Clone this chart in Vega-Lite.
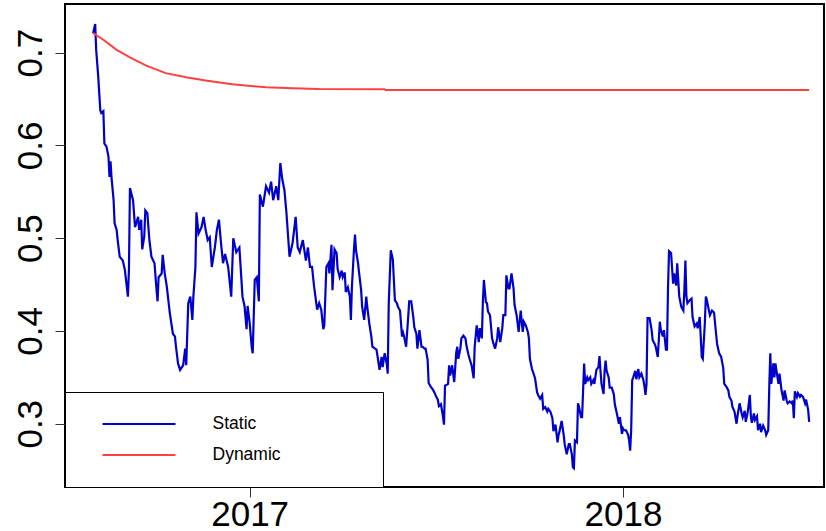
{
  "$schema": "https://vega.github.io/schema/vega-lite/v6.json",
  "width": 759,
  "height": 483,
  "autosize": {"type": "none"},
  "padding": {"left": 65, "top": 4, "right": 2, "bottom": 44},
  "background": "white",
  "config": {
    "view": {"stroke": "black", "strokeWidth": 2},
    "font": "Liberation Sans"
  },
  "datasets": {
    "static": [
      {"d":"2016-08-01","v":0.721},{"d":"2016-08-03","v":0.731},{"d":"2016-08-04","v":0.703},{"d":"2016-08-06","v":0.674},{"d":"2016-08-08","v":0.638},{"d":"2016-08-09","v":0.635},{"d":"2016-08-11","v":0.637},{"d":"2016-08-12","v":0.602},{"d":"2016-08-14","v":0.599},{"d":"2016-08-16","v":0.588},{"d":"2016-08-17","v":0.566},{"d":"2016-08-18","v":0.583},{"d":"2016-08-19","v":0.565},{"d":"2016-08-21","v":0.541},{"d":"2016-08-22","v":0.516},{"d":"2016-08-24","v":0.509},{"d":"2016-08-25","v":0.498},{"d":"2016-08-27","v":0.480},{"d":"2016-08-30","v":0.476},{"d":"2016-09-01","v":0.466},{"d":"2016-09-04","v":0.437},{"d":"2016-09-05","v":0.466},{"d":"2016-09-06","v":0.554},{"d":"2016-09-09","v":0.541},{"d":"2016-09-11","v":0.512},{"d":"2016-09-14","v":0.523},{"d":"2016-09-15","v":0.509},{"d":"2016-09-17","v":0.520},{"d":"2016-09-18","v":0.488},{"d":"2016-09-20","v":0.502},{"d":"2016-09-21","v":0.530},{"d":"2016-09-23","v":0.527},{"d":"2016-09-25","v":0.498},{"d":"2016-09-27","v":0.480},{"d":"2016-09-30","v":0.473},{"d":"2016-10-02","v":0.444},{"d":"2016-10-03","v":0.432},{"d":"2016-10-04","v":0.458},{"d":"2016-10-07","v":0.462},{"d":"2016-10-08","v":0.482},{"d":"2016-10-10","v":0.462},{"d":"2016-10-12","v":0.448},{"d":"2016-10-15","v":0.419},{"d":"2016-10-18","v":0.397},{"d":"2016-10-20","v":0.394},{"d":"2016-10-21","v":0.383},{"d":"2016-10-23","v":0.365},{"d":"2016-10-25","v":0.358},{"d":"2016-10-28","v":0.363},{"d":"2016-10-30","v":0.381},{"d":"2016-10-31","v":0.363},{"d":"2016-11-02","v":0.430},{"d":"2016-11-04","v":0.437},{"d":"2016-11-06","v":0.412},{"d":"2016-11-07","v":0.437},{"d":"2016-11-09","v":0.469},{"d":"2016-11-10","v":0.528},{"d":"2016-11-12","v":0.505},{"d":"2016-11-15","v":0.512},{"d":"2016-11-17","v":0.523},{"d":"2016-11-19","v":0.509},{"d":"2016-11-21","v":0.498},{"d":"2016-11-23","v":0.501},{"d":"2016-11-25","v":0.469},{"d":"2016-11-28","v":0.490},{"d":"2016-11-30","v":0.509},{"d":"2016-12-02","v":0.520},{"d":"2016-12-04","v":0.495},{"d":"2016-12-06","v":0.473},{"d":"2016-12-08","v":0.483},{"d":"2016-12-11","v":0.469},{"d":"2016-12-14","v":0.437},{"d":"2016-12-16","v":0.500},{"d":"2016-12-19","v":0.485},{"d":"2016-12-22","v":0.490},{"d":"2016-12-25","v":0.437},{"d":"2016-12-27","v":0.427},{"d":"2016-12-29","v":0.402},{"d":"2016-12-30","v":0.427},
      {"d":"2017-01-01","v":0.409},{"d":"2017-01-03","v":0.383},{"d":"2017-01-04","v":0.376},{"d":"2017-01-06","v":0.455},{"d":"2017-01-08","v":0.458},{"d":"2017-01-10","v":0.432},{"d":"2017-01-11","v":0.547},{"d":"2017-01-14","v":0.534},{"d":"2017-01-17","v":0.556},{"d":"2017-01-20","v":0.549},{"d":"2017-01-22","v":0.561},{"d":"2017-01-24","v":0.541},{"d":"2017-01-27","v":0.556},{"d":"2017-01-29","v":0.541},{"d":"2017-01-31","v":0.581},{"d":"2017-02-02","v":0.563},{"d":"2017-02-04","v":0.552},{"d":"2017-02-06","v":0.527},{"d":"2017-02-09","v":0.480},{"d":"2017-02-12","v":0.495},{"d":"2017-02-15","v":0.523},{"d":"2017-02-17","v":0.490},{"d":"2017-02-19","v":0.485},{"d":"2017-02-22","v":0.498},{"d":"2017-02-25","v":0.476},{"d":"2017-02-27","v":0.490},{"d":"2017-03-01","v":0.469},{"d":"2017-03-03","v":0.469},{"d":"2017-03-05","v":0.448},{"d":"2017-03-08","v":0.423},{"d":"2017-03-10","v":0.430},{"d":"2017-03-12","v":0.423},{"d":"2017-03-14","v":0.402},{"d":"2017-03-15","v":0.406},{"d":"2017-03-17","v":0.469},{"d":"2017-03-19","v":0.473},{"d":"2017-03-20","v":0.462},{"d":"2017-03-22","v":0.493},{"d":"2017-03-23","v":0.444},{"d":"2017-03-25","v":0.488},{"d":"2017-03-27","v":0.484},{"d":"2017-03-28","v":0.467},{"d":"2017-03-30","v":0.458},{"d":"2017-04-01","v":0.465},{"d":"2017-04-02","v":0.458},{"d":"2017-04-04","v":0.463},{"d":"2017-04-05","v":0.442},{"d":"2017-04-07","v":0.447},{"d":"2017-04-09","v":0.437},{"d":"2017-04-10","v":0.412},{"d":"2017-04-11","v":0.448},{"d":"2017-04-13","v":0.488},{"d":"2017-04-14","v":0.504},{"d":"2017-04-15","v":0.487},{"d":"2017-04-17","v":0.473},{"d":"2017-04-18","v":0.463},{"d":"2017-04-20","v":0.444},{"d":"2017-04-21","v":0.426},{"d":"2017-04-23","v":0.412},{"d":"2017-04-25","v":0.437},{"d":"2017-04-26","v":0.426},{"d":"2017-04-28","v":0.408},{"d":"2017-04-30","v":0.394},{"d":"2017-05-01","v":0.383},{"d":"2017-05-05","v":0.380},{"d":"2017-05-06","v":0.373},{"d":"2017-05-08","v":0.358},{"d":"2017-05-10","v":0.372},{"d":"2017-05-11","v":0.361},{"d":"2017-05-13","v":0.376},{"d":"2017-05-15","v":0.365},{"d":"2017-05-16","v":0.354},{"d":"2017-05-17","v":0.430},{"d":"2017-05-19","v":0.487},{"d":"2017-05-21","v":0.477},{"d":"2017-05-23","v":0.433},{"d":"2017-05-25","v":0.430},{"d":"2017-05-26","v":0.426},{"d":"2017-05-28","v":0.422},{"d":"2017-05-30","v":0.394},{"d":"2017-05-31","v":0.398},{"d":"2017-06-01","v":0.394},{"d":"2017-06-03","v":0.383},{"d":"2017-06-05","v":0.415},{"d":"2017-06-06","v":0.432},{"d":"2017-06-08","v":0.432},{"d":"2017-06-10","v":0.415},{"d":"2017-06-11","v":0.404},{"d":"2017-06-13","v":0.397},{"d":"2017-06-14","v":0.381},{"d":"2017-06-16","v":0.401},{"d":"2017-06-18","v":0.383},{"d":"2017-06-19","v":0.383},{"d":"2017-06-21","v":0.381},{"d":"2017-06-22","v":0.381},{"d":"2017-06-24","v":0.369},{"d":"2017-06-25","v":0.344},{"d":"2017-06-27","v":0.340},{"d":"2017-06-29","v":0.337},{"d":"2017-07-01","v":0.333},{"d":"2017-07-02","v":0.330},{"d":"2017-07-04","v":0.326},{"d":"2017-07-05","v":0.319},{"d":"2017-07-07","v":0.321},{"d":"2017-07-09","v":0.308},{"d":"2017-07-10","v":0.299},{"d":"2017-07-11","v":0.341},{"d":"2017-07-14","v":0.343},{"d":"2017-07-15","v":0.363},{"d":"2017-07-16","v":0.352},{"d":"2017-07-18","v":0.363},{"d":"2017-07-20","v":0.345},{"d":"2017-07-22","v":0.377},{"d":"2017-07-23","v":0.383},{"d":"2017-07-24","v":0.370},{"d":"2017-07-26","v":0.381},{"d":"2017-07-27","v":0.392},{"d":"2017-07-29","v":0.395},{"d":"2017-07-31","v":0.392},{"d":"2017-08-01","v":0.384},{"d":"2017-08-03","v":0.374},{"d":"2017-08-04","v":0.370},{"d":"2017-08-06","v":0.363},{"d":"2017-08-08","v":0.349},{"d":"2017-08-09","v":0.383},{"d":"2017-08-11","v":0.406},{"d":"2017-08-13","v":0.388},{"d":"2017-08-14","v":0.403},{"d":"2017-08-16","v":0.392},{"d":"2017-08-17","v":0.431},{"d":"2017-08-18","v":0.455},{"d":"2017-08-20","v":0.431},{"d":"2017-08-21","v":0.430},{"d":"2017-08-22","v":0.421},{"d":"2017-08-24","v":0.417},{"d":"2017-08-26","v":0.392},{"d":"2017-08-27","v":0.388},{"d":"2017-08-29","v":0.381},{"d":"2017-08-31","v":0.392},{"d":"2017-09-01","v":0.404},{"d":"2017-09-03","v":0.388},{"d":"2017-09-05","v":0.403},{"d":"2017-09-06","v":0.417},{"d":"2017-09-08","v":0.417},{"d":"2017-09-09","v":0.460},{"d":"2017-09-11","v":0.446},{"d":"2017-09-12","v":0.446},{"d":"2017-09-14","v":0.462},{"d":"2017-09-16","v":0.446},{"d":"2017-09-17","v":0.428},{"d":"2017-09-19","v":0.417},{"d":"2017-09-21","v":0.399},{"d":"2017-09-23","v":0.422},{"d":"2017-09-25","v":0.399},{"d":"2017-09-26","v":0.410},{"d":"2017-09-28","v":0.406},{"d":"2017-09-30","v":0.399},{"d":"2017-10-01","v":0.392},{"d":"2017-10-02","v":0.370},{"d":"2017-10-04","v":0.359},{"d":"2017-10-05","v":0.356},{"d":"2017-10-07","v":0.349},{"d":"2017-10-09","v":0.334},{"d":"2017-10-10","v":0.331},{"d":"2017-10-12","v":0.327},{"d":"2017-10-14","v":0.331},{"d":"2017-10-15","v":0.316},{"d":"2017-10-17","v":0.318},{"d":"2017-10-19","v":0.313},{"d":"2017-10-20","v":0.316},{"d":"2017-10-22","v":0.313},{"d":"2017-10-24","v":0.306},{"d":"2017-10-25","v":0.292},{"d":"2017-10-27","v":0.299},{"d":"2017-10-29","v":0.280},{"d":"2017-10-30","v":0.288},{"d":"2017-10-31","v":0.292},{"d":"2017-11-02","v":0.303},{"d":"2017-11-04","v":0.288},{"d":"2017-11-05","v":0.278},{"d":"2017-11-07","v":0.267},{"d":"2017-11-09","v":0.278},{"d":"2017-11-10","v":0.278},{"d":"2017-11-12","v":0.267},{"d":"2017-11-13","v":0.253},{"d":"2017-11-14","v":0.252},{"d":"2017-11-15","v":0.282},{"d":"2017-11-17","v":0.280},{"d":"2017-11-18","v":0.322},{"d":"2017-11-19","v":0.318},{"d":"2017-11-21","v":0.307},{"d":"2017-11-22","v":0.307},{"d":"2017-11-23","v":0.336},{"d":"2017-11-24","v":0.365},{"d":"2017-11-25","v":0.343},{"d":"2017-11-27","v":0.350},{"d":"2017-11-28","v":0.347},{"d":"2017-11-30","v":0.350},{"d":"2017-12-01","v":0.343},{"d":"2017-12-03","v":0.347},{"d":"2017-12-04","v":0.343},{"d":"2017-12-06","v":0.358},{"d":"2017-12-08","v":0.361},{"d":"2017-12-09","v":0.373},{"d":"2017-12-10","v":0.357},{"d":"2017-12-11","v":0.343},{"d":"2017-12-13","v":0.332},{"d":"2017-12-14","v":0.357},{"d":"2017-12-15","v":0.368},{"d":"2017-12-16","v":0.357},{"d":"2017-12-18","v":0.350},{"d":"2017-12-19","v":0.339},{"d":"2017-12-21","v":0.339},{"d":"2017-12-23","v":0.332},{"d":"2017-12-24","v":0.321},{"d":"2017-12-26","v":0.311},{"d":"2017-12-28","v":0.300},{"d":"2017-12-29","v":0.307},{"d":"2017-12-31","v":0.289},
      {"d":"2018-01-01","v":0.295},{"d":"2018-01-02","v":0.293},{"d":"2018-01-04","v":0.293},{"d":"2018-01-06","v":0.288},{"d":"2018-01-07","v":0.282},{"d":"2018-01-08","v":0.271},{"d":"2018-01-09","v":0.293},{"d":"2018-01-10","v":0.347},{"d":"2018-01-11","v":0.350},{"d":"2018-01-13","v":0.357},{"d":"2018-01-14","v":0.348},{"d":"2018-01-16","v":0.359},{"d":"2018-01-17","v":0.350},{"d":"2018-01-19","v":0.354},{"d":"2018-01-21","v":0.347},{"d":"2018-01-22","v":0.340},{"d":"2018-01-23","v":0.331},{"d":"2018-01-24","v":0.343},{"d":"2018-01-25","v":0.414},{"d":"2018-01-27","v":0.414},{"d":"2018-01-29","v":0.401},{"d":"2018-01-30","v":0.390},{"d":"2018-02-01","v":0.386},{"d":"2018-02-02","v":0.383},{"d":"2018-02-04","v":0.372},{"d":"2018-02-05","v":0.390},{"d":"2018-02-06","v":0.410},{"d":"2018-02-07","v":0.401},{"d":"2018-02-09","v":0.394},{"d":"2018-02-10","v":0.401},{"d":"2018-02-12","v":0.380},{"d":"2018-02-13","v":0.380},{"d":"2018-02-14","v":0.446},{"d":"2018-02-15","v":0.486},{"d":"2018-02-17","v":0.484},{"d":"2018-02-19","v":0.451},{"d":"2018-02-20","v":0.462},{"d":"2018-02-22","v":0.449},{"d":"2018-02-23","v":0.473},{"d":"2018-02-25","v":0.437},{"d":"2018-02-27","v":0.426},{"d":"2018-03-01","v":0.422},{"d":"2018-03-02","v":0.444},{"d":"2018-03-03","v":0.476},{"d":"2018-03-04","v":0.437},{"d":"2018-03-05","v":0.430},{"d":"2018-03-07","v":0.433},{"d":"2018-03-09","v":0.435},{"d":"2018-03-10","v":0.415},{"d":"2018-03-12","v":0.405},{"d":"2018-03-14","v":0.408},{"d":"2018-03-15","v":0.403},{"d":"2018-03-17","v":0.415},{"d":"2018-03-19","v":0.372},{"d":"2018-03-20","v":0.370},{"d":"2018-03-22","v":0.408},{"d":"2018-03-23","v":0.437},{"d":"2018-03-24","v":0.433},{"d":"2018-03-26","v":0.422},{"d":"2018-03-27","v":0.417},{"d":"2018-03-29","v":0.422},{"d":"2018-03-31","v":0.420},{"d":"2018-04-02","v":0.397},{"d":"2018-04-03","v":0.386},{"d":"2018-04-05","v":0.376},{"d":"2018-04-07","v":0.372},{"d":"2018-04-09","v":0.360},{"d":"2018-04-10","v":0.343},{"d":"2018-04-12","v":0.340},{"d":"2018-04-14","v":0.336},{"d":"2018-04-15","v":0.329},{"d":"2018-04-17","v":0.325},{"d":"2018-04-18","v":0.318},{"d":"2018-04-20","v":0.313},{"d":"2018-04-22","v":0.300},{"d":"2018-04-23","v":0.309},{"d":"2018-04-25","v":0.322},{"d":"2018-04-27","v":0.311},{"d":"2018-04-28","v":0.307},{"d":"2018-04-30","v":0.314},{"d":"2018-05-01","v":0.302},{"d":"2018-05-03","v":0.313},{"d":"2018-05-05","v":0.331},{"d":"2018-05-06","v":0.308},{"d":"2018-05-07","v":0.301},{"d":"2018-05-09","v":0.311},{"d":"2018-05-10","v":0.304},{"d":"2018-05-12","v":0.308},{"d":"2018-05-13","v":0.293},{"d":"2018-05-15","v":0.300},{"d":"2018-05-16","v":0.291},{"d":"2018-05-18","v":0.298},{"d":"2018-05-20","v":0.293},{"d":"2018-05-21","v":0.288},{"d":"2018-05-23","v":0.293},{"d":"2018-05-24","v":0.340},{"d":"2018-05-25","v":0.376},{"d":"2018-05-26","v":0.343},{"d":"2018-05-28","v":0.365},{"d":"2018-05-29","v":0.350},{"d":"2018-05-30","v":0.365},{"d":"2018-06-01","v":0.350},{"d":"2018-06-02","v":0.343},{"d":"2018-06-03","v":0.354},{"d":"2018-06-05","v":0.336},{"d":"2018-06-07","v":0.325},{"d":"2018-06-08","v":0.336},{"d":"2018-06-10","v":0.325},{"d":"2018-06-11","v":0.322},{"d":"2018-06-13","v":0.324},{"d":"2018-06-15","v":0.322},{"d":"2018-06-16","v":0.325},{"d":"2018-06-17","v":0.306},{"d":"2018-06-18","v":0.335},{"d":"2018-06-20","v":0.329},{"d":"2018-06-21","v":0.333},{"d":"2018-06-23","v":0.329},{"d":"2018-06-24","v":0.331},{"d":"2018-06-26","v":0.329},{"d":"2018-06-28","v":0.322},{"d":"2018-06-29","v":0.326},{"d":"2018-07-01","v":0.315},{"d":"2018-07-02","v":0.302}
    ],
    "dynamic": [
      {"d":"2016-08-01","v":0.721},{"d":"2016-08-11","v":0.714},{"d":"2016-08-24","v":0.703},{"d":"2016-09-06","v":0.695},{"d":"2016-09-22","v":0.686},{"d":"2016-10-11","v":0.678},{"d":"2016-10-31","v":0.6735},{"d":"2016-11-19","v":0.670},{"d":"2016-12-15","v":0.666},{"d":"2017-01-17","v":0.6627},{"d":"2017-02-12","v":0.6616},{"d":"2017-03-10","v":0.6608},{"d":"2017-05-13","v":0.6606},{"d":"2017-05-14","v":0.6598},{"d":"2018-07-02","v":0.6598}
    ]
  },
  "encoding": {
    "x": {
      "field": "d",
      "type": "temporal",
      "scale": {
        "type": "utc",
        "domain": [
          {"year": 2016, "month": 7, "date": 4, "hours": 12, "utc": true},
          {"year": 2018, "month": 7, "date": 16, "hours": 12, "utc": true}
        ]
      },
      "axis": {
        "title": null,
        "values": [{"year": 2017, "utc": true}, {"year": 2018, "utc": true}],
        "format": "%Y",
        "domain": false,
        "grid": false,
        "tickColor": "#333333",
        "tickSize": 10,
        "tickWidth": 1,
        "labelFont": "Liberation Sans",
        "labelFontSize": 35,
        "labelColor": "black",
        "labelPadding": 0,
        "labelFlush": false
      }
    },
    "y": {
      "field": "v",
      "type": "quantitative",
      "scale": {"domain": [0.2318, 0.7525], "nice": false, "zero": false},
      "axis": {
        "title": null,
        "values": [0.3, 0.4, 0.5, 0.6, 0.7],
        "format": ".1f",
        "domain": false,
        "grid": false,
        "tickColor": "#333333",
        "tickSize": 10,
        "tickWidth": 1,
        "labelFont": "Liberation Sans",
        "labelFontSize": 35,
        "labelColor": "black",
        "labelAngle": 270,
        "labelAlign": "center",
        "labelBaseline": "alphabetic",
        "labelPadding": 14
      }
    }
  },
  "layer": [
    {
      "data": {"name": "static"},
      "mark": {"type": "line", "strokeWidth": 2.2, "interpolate": "linear"},
      "encoding": {
        "color": {
          "datum": "Static",
          "type": "nominal",
          "scale": {"domain": ["Static", "Dynamic"], "range": ["#0000CD", "#FF4040"]},
          "legend": {
            "title": "\u00a0",
            "titleOrient": "right",
            "titlePadding": 86,
            "titleFontSize": 17.5,
            "titleColor": "white",
            "orient": "none",
            "legendX": 0,
            "legendY": 388,
            "direction": "vertical",
            "symbolType": "stroke",
            "symbolSize": 5329,
            "symbolStrokeWidth": 2,
            "labelFont": "Liberation Sans",
            "labelFontSize": 17.5,
            "labelColor": "black",
            "labelOffset": 36,
            "padding": 16.5,
            "clipHeight": 31,
            "rowPadding": 0,
            "symbolOffset": 20,
            "strokeColor": "black",
            "fillColor": "white"
          }
        }
      }
    },
    {
      "data": {"name": "dynamic"},
      "mark": {"type": "line", "strokeWidth": 2, "interpolate": "linear"},
      "encoding": {
        "color": {"datum": "Dynamic", "type": "nominal"}
      }
    }
  ]
}
